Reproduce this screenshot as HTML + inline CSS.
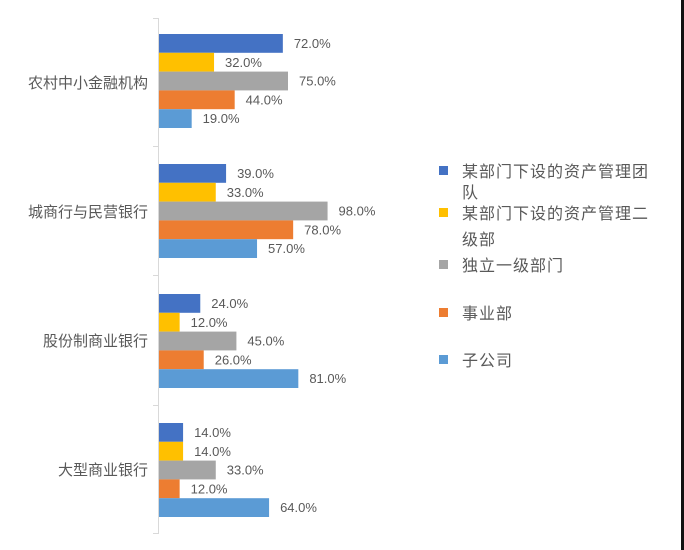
<!DOCTYPE html>
<html><head><meta charset="utf-8"><style>
html,body{margin:0;padding:0;background:#fff;}
svg{display:block}
text{font-family:"Liberation Sans","Noto Sans CJK SC",sans-serif;fill:#595959}
</style></head><body>
<svg width="684" height="550" viewBox="0 0 684 550" xmlns="http://www.w3.org/2000/svg">
<rect x="0" y="0" width="684" height="550" fill="#fff"/>
<rect x="681" y="0" width="3" height="550" fill="#111"/>
<g stroke="#d9d9d9" stroke-width="1">
<line x1="158.5" y1="18" x2="158.5" y2="534"/>
<line x1="153" y1="18.5" x2="158.5" y2="18.5"/>
<line x1="153" y1="146.5" x2="158.5" y2="146.5"/>
<line x1="153" y1="275.5" x2="158.5" y2="275.5"/>
<line x1="153" y1="405.5" x2="158.5" y2="405.5"/>
<line x1="153" y1="533.5" x2="158.5" y2="533.5"/>
</g>
<g font-size="15" text-anchor="end">
<text x="148" y="88">农村中小金融机构</text>
<text x="148" y="217">城商行与民营银行</text>
<text x="148" y="346">股份制商业银行</text>
<text x="148" y="475">大型商业银行</text>
</g>
<g id="bars"></g>
<g font-size="16" letter-spacing="1">
<rect x="439" y="166" width="9" height="9" fill="#4472c4"/>
<text x="462" y="177">某部门下设的资产管理团</text>
<text x="462" y="198">队</text>
<rect x="439" y="208" width="9" height="9" fill="#ffc000"/>
<text x="462" y="219">某部门下设的资产管理二</text>
<text x="462" y="245">级部</text>
<rect x="439" y="260" width="9" height="9" fill="#a5a5a5"/>
<text x="462" y="271">独立一级部门</text>
<rect x="439" y="308" width="9" height="9" fill="#ed7d31"/>
<text x="462" y="319">事业部</text>
<rect x="439" y="355" width="9" height="9" fill="#5b9bd5"/>
<text x="462" y="366">子公司</text>
</g>
</svg>
<script>
var data=[[72,32,75,44,19],[39,33,98,78,57],[24,12,45,26,81],[14,14,33,12,64]];
var tops=[34,164,294,423];
var cols=["#4472c4","#ffc000","#a5a5a5","#ed7d31","#5b9bd5"];
var g=document.getElementById('bars');var ns="http://www.w3.org/2000/svg";
data.forEach(function(d,i){d.forEach(function(v,j){
var y=tops[i]+j*18.8,w=v*1.72;
var r=document.createElementNS(ns,'rect');r.setAttribute('x',159);r.setAttribute('y',y);r.setAttribute('width',w);r.setAttribute('height',18.8);r.setAttribute('fill',cols[j]);g.appendChild(r);
var t=document.createElementNS(ns,'text');t.setAttribute('x',159+w+11);t.setAttribute('y',y+14);t.setAttribute('font-size','13');t.textContent=v.toFixed(1)+'%';g.appendChild(t);
});});
</script>
</body></html>
